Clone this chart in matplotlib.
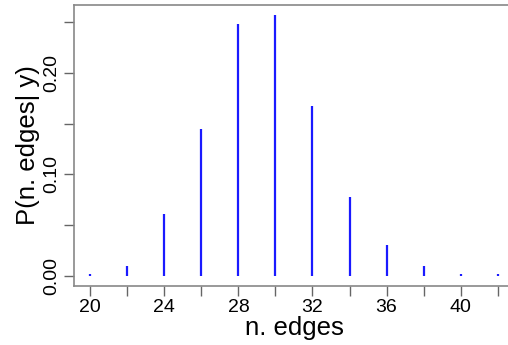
import numpy as np
import matplotlib.pyplot as plt

plt.rcParams['font.family'] = ['Liberation Sans', 'DejaVu Sans']

n_edges = [20, 22, 24, 26, 28, 30, 32, 34, 36, 38, 40, 42]
prob = [0.0012, 0.0096, 0.0605, 0.145, 0.249, 0.257, 0.168, 0.0776, 0.0307, 0.009, 0.002, 0.0012]

xticks = [20, 22, 24, 26, 28, 30, 32, 34, 36, 38, 40, 42]
xlabels = ['20', '', '24', '', '28', '', '32', '', '36', '', '40', '']
yticks = [0.0, 0.05, 0.10, 0.15, 0.20, 0.25]
ylabels = ['0.00', '', '0.10', '', '0.20', '']

fig = plt.figure(figsize=(5.08, 3.45), dpi=100)
ax = fig.add_axes([0.1457, 0.171, 0.866, 0.8145])

ax.vlines(n_edges, 0, prob, color='#1a1aff', linewidth=1.6)

# R-style 4% padding
xr = max(n_edges) - min(n_edges)
ax.set_xlim(min(n_edges) - 0.04 * xr, max(n_edges) + 0.04 * xr)
yr = max(prob)
ax.set_ylim(-0.04 * yr, yr * 1.04)

ax.set_xticks(xticks)
ax.set_xticklabels(xlabels)
ax.set_yticks(yticks)
ax.set_yticklabels(ylabels, rotation=90, va='center')

for s in ax.spines.values():
    s.set_color('#888888')
    s.set_linewidth(1.2)
ax.tick_params(direction='out', length=7, width=1, color='#666666',
               labelsize=14, pad=2)
ax.tick_params(axis='y', pad=3)

ax.set_xlabel('n. edges', fontsize=18.5, labelpad=0)
ax.set_ylabel('P(n. edges| y)', fontsize=18.5, labelpad=2)

fig.savefig('out.png', dpi=100, facecolor='w')
